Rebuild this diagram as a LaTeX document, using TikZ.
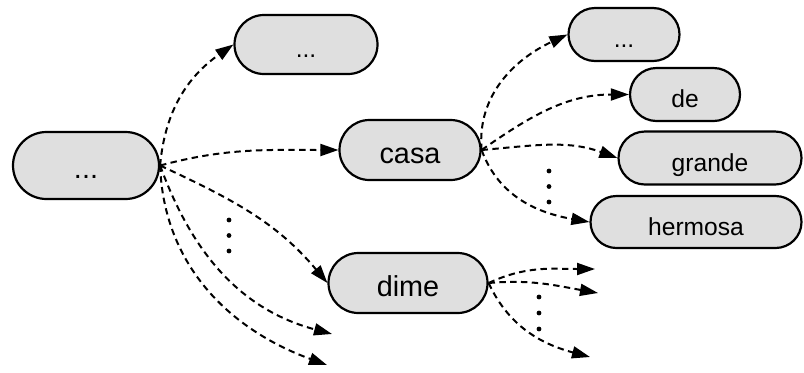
\documentclass[tikz,border=0pt]{standalone}
\usepackage{fontspec}
\setmainfont{Liberation Sans}
\usetikzlibrary{arrows.meta,shapes.misc}

\begin{document}
\begin{tikzpicture}[x=0.25mm,y=0.25mm,
	word/.style={draw,line width=0.55mm,fill=gray!25,rounded rectangle,inner sep=0pt,text height=7mm,text depth=0.5mm},
	big/.style={font=\fontsize{20.5}{24}\selectfont},
	small/.style={font=\fontsize{17.5}{21}\selectfont},
	link/.style={line width=0.5mm,dash pattern=on 1.6mm off 1.1mm,>={Triangle[length=4.5mm,width=3mm]},->}]
	\useasboundingbox (0,0) rectangle (804,-372);

	% words
	\node[word,big,minimum width=36.5mm,minimum height=16.75mm] (root) at (86,-165.5) {...};
	\node[word,small,minimum width=35.75mm,minimum height=14.75mm] (top) at (306,-44.5) {...};
	\node[word,big,minimum width=35.25mm,minimum height=15mm] (casa) at (410,-150) {casa};
	\node[word,big,minimum width=39.75mm,minimum height=15mm] (dime) at (408,-283) {dime};
	
	\node[word,small,minimum width=27.75mm,minimum height=13.25mm] (more) at (624,-34.5) {...};
	\node[word,small,minimum width=27.5mm,minimum height=13.25mm] (de) at (685,-94.5) {de};
	\node[word,small,minimum width=45.75mm,minimum height=13.25mm] (grande) at (710,-158) {grande};
	\node[word,small,minimum width=52.75mm,minimum height=13mm] (hermosa) at (696,-222) {hermosa};
	
	% open ends
	\coordinate (r1) at (332,-334);
	\coordinate (r2) at (327,-365);
	\coordinate (d1) at (595,-269);
	\coordinate (d2) at (598,-293);
	\coordinate (d3) at (590,-357);

	\draw[link] (root.east) to[out=85,in=215] (top.west);
	\draw[link] (root.east) to[out=15,in=180] (casa.west);
	\draw[link] (root.east) to[out=-25,in=130] (dime.west);
	\draw[link] (root.east) to[out=-70,in=165] (r1);
	\draw[link] (root.east) to[out=-88,in=160] (r2);
	
	\draw[link] (casa.east) to[out=95,in=205] (more.west);
	\draw[link] (casa.east) to[out=35,in=180] (de.west);
	\draw[link] (casa.east) to[out=5,in=160] (grande.west);
	\draw[link] (casa.east) to[out=-70,in=170] (hermosa.west);
	
	\draw[link] (dime.east) to[out=25,in=180] (d1);
	\draw[link] (dime.east) to[out=5,in=170] (d2);
	\draw[link] (dime.east) to[out=-65,in=165] (d3);
	
	% vertical dots
	\foreach \y in {220,235.5,251} \fill (229,-\y) circle (0.6mm);
	\foreach \y in {171,186.5,202} \fill (549,-\y) circle (0.6mm);
	\foreach \y in {297,313,329} \fill (539,-\y) circle (0.6mm);
\end{tikzpicture}
\end{document}
